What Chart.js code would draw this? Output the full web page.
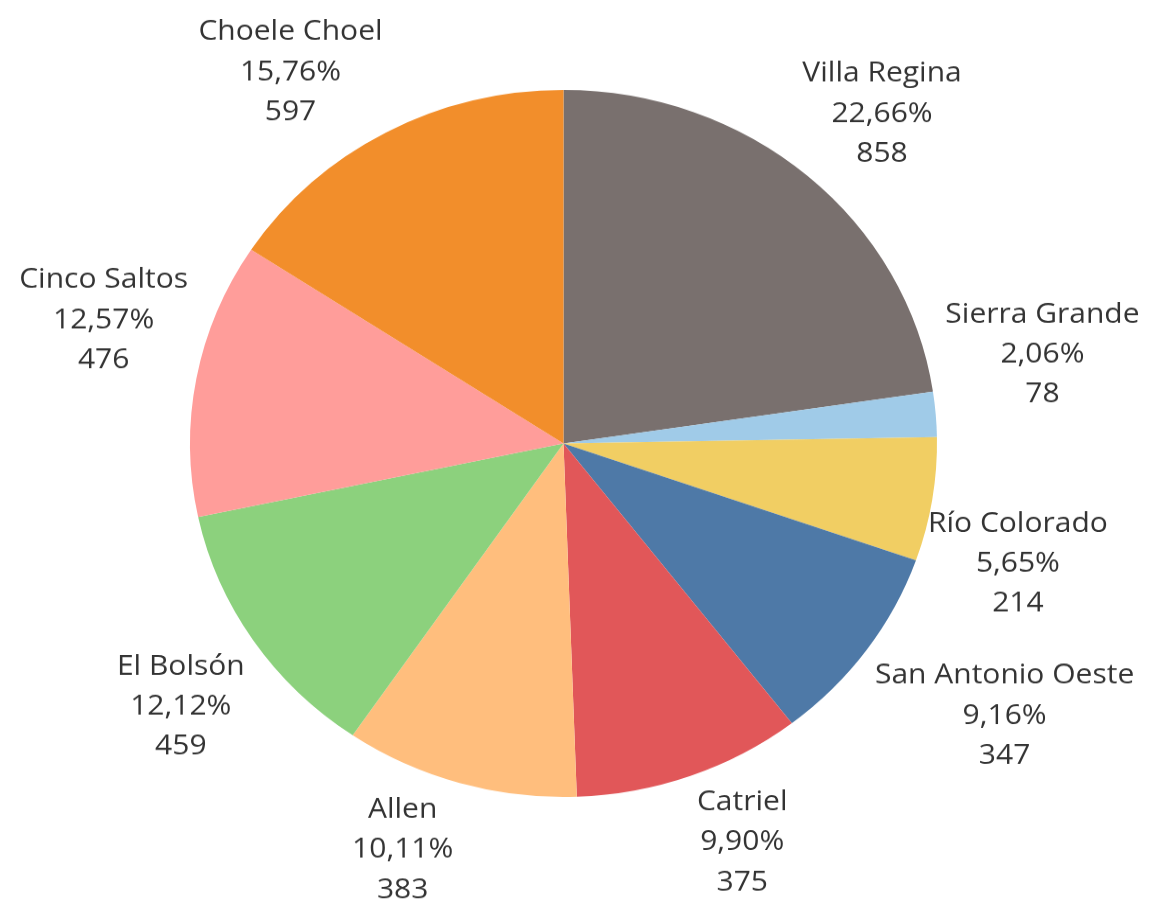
<!DOCTYPE html>
<html>
<head>
<meta charset="utf-8">
<script src="https://cdn.jsdelivr.net/npm/chart.js@4/dist/chart.umd.min.js"></script>
<style>
  html, body { margin: 0; padding: 0; background: #fff; overflow: hidden; }
  /* the reference image is slightly squashed vertically, so draw taller and scale down */
  #wrap { width: 1149px; height: 954px; transform: scaleY(0.9465); transform-origin: 0 0; }
</style>
</head>
<body>
<div id="wrap"><canvas id="pie"></canvas></div>
<script>
// Data (clockwise from 12 o'clock)
const CITIES = ['Villa Regina', 'Sierra Grande', 'Río Colorado', 'San Antonio Oeste',
    'Catriel', 'Allen', 'El Bolsón', 'Cinco Saltos', 'Choele Choel'];
const COUNTS = [858, 78, 214, 347, 375, 383, 459, 476, 597];

const SLICE_COLORS = ['#79706E', '#A0CBE8', '#F1CE63', '#4E79A7',
    '#E15759', '#FFBE7D', '#8CD17D', '#FF9D9A', '#F28E2B'];

// small per-label nudges (px) so labels sit where the original placed them
const LABEL_NUDGE = [[16, -10], [0, -57], [-13, 56], [25, 26], [33, 1],
    [-40, 0], [-11, 29], [0, -48], [-47, 1]];

const FONT = '30px "Open Sans", sans-serif';
const LINE_H = 42.3;

function pct(v, total) {
    return (v / total * 100).toFixed(2).replace('.', ',') + '%';
}

// draws the three-line labels outside each slice
const outsideLabels = {
    id: 'outsideLabels',
    afterDatasetsDraw(chart) {
        const ctx = chart.ctx;
        const meta = chart.getDatasetMeta(0);
        const values = chart.data.datasets[0].data;
        const total = values.reduce((a, b) => a + b, 0);
        ctx.save();
        ctx.font = FONT;
        ctx.fillStyle = '#333333';
        ctx.textAlign = 'center';
        ctx.textBaseline = 'middle';
        meta.data.forEach((arc, i) => {
            const p = arc.getProps(['x', 'y', 'startAngle', 'endAngle', 'outerRadius'], true);
            const mid = (p.startAngle + p.endAngle) / 2;
            const lines = [chart.data.labels[i], pct(values[i], total), String(values[i])];
            const w = Math.max(...lines.map(t => ctx.measureText(t).width));
            const r = p.outerRadius + 10;
            const cx = p.x + Math.cos(mid) * (r + w / 2) + LABEL_NUDGE[i][0];
            const cy = p.y + Math.sin(mid) * (r + LINE_H * 1.5) + LABEL_NUDGE[i][1];
            lines.forEach((t, k) => ctx.fillText(t, cx, cy + (k - 1) * LINE_H));
        });
        ctx.restore();
    }
};

new Chart(document.getElementById('pie').getContext('2d'), {
    type: 'pie',
    data: {
        labels: CITIES,
        datasets: [{
            data: COUNTS,
            backgroundColor: SLICE_COLORS,
            borderWidth: 0
        }]
    },
    options: {
        responsive: true,
        maintainAspectRatio: false,
        animation: false,
        layout: { padding: { top: 95, bottom: 112, left: 190, right: 212 } },
        plugins: {
            legend: { display: false },
            tooltip: { enabled: false }
        }
    },
    plugins: [outsideLabels]
});
</script>
</body>
</html>
